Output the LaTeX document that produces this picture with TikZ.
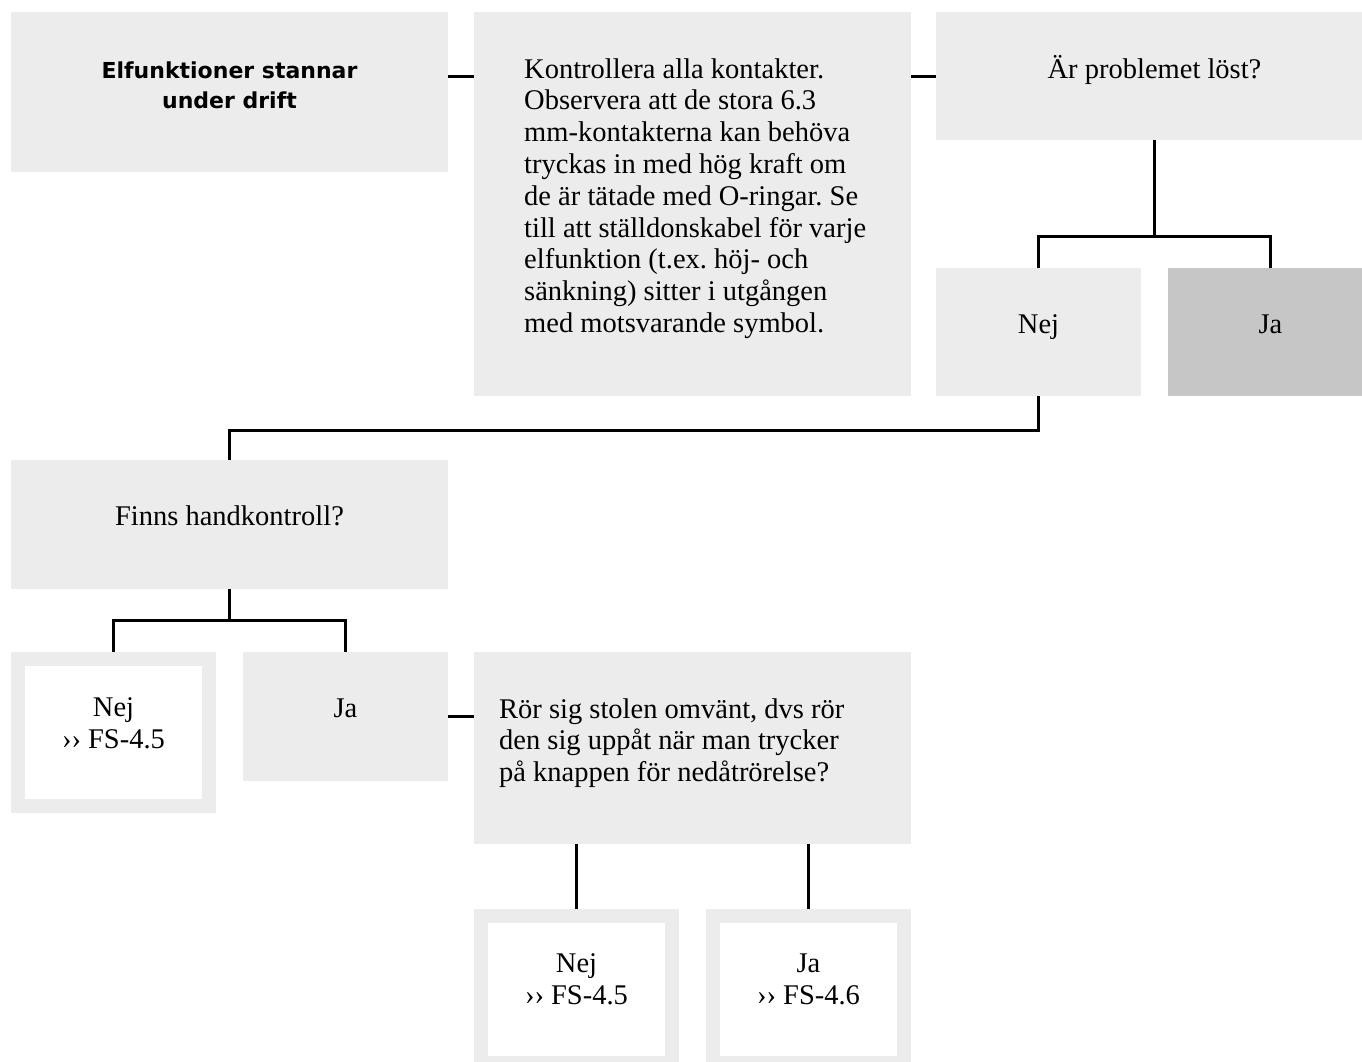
\documentclass[tikz,border=0pt]{standalone}
\usepackage{fontspec}
\setmainfont{Liberation Serif}
\newfontfamily\headfont{DejaVu Sans}
\usetikzlibrary{positioning}
\frenchspacing

\definecolor{boxgray}{HTML}{ECECEC}
\definecolor{yesgray}{HTML}{C6C6C6}

\tikzset{
  box/.style={fill=boxgray, anchor=north west, minimum width=437pt, inner sep=0pt, outer sep=0pt},
  smallbox/.style={box, minimum width=205pt, minimum height=128pt},
  endbox/.style={draw=boxgray, line width=14pt, anchor=north west, minimum width=191pt,
    minimum height=147pt, inner sep=0pt, outer sep=7pt},
  txt/.style={anchor=base, inner sep=0pt, align=center, font=\fontsize{28.5}{31.8}\selectfont},
  conn/.style={line width=3pt},
}

\begin{document}
\begin{tikzpicture}[x=1pt, y=-1pt]
  \useasboundingbox (0,0) rectangle (1362,1061);

  % boxes
  \node[box, minimum height=160pt] (start) at (11,12) {};
  \node[box, minimum height=384pt] (check) at (474,12) {};
  \node[box, minimum height=128pt] (solved) at (936,12) {};
  \node[smallbox] (solvedno) at (936,268) {};
  \node[smallbox, fill=yesgray] (solvedyes) at (1168,268) {};
  \node[box, minimum height=129pt] (hand) at (11,460) {};
  \node[endbox] (handno) at (11,652) {};
  \node[smallbox, minimum height=129pt] (handyes) at (243,652) {};
  \node[box, minimum height=192pt] (rev) at (474,652) {};
  \node[endbox] (revno) at (474,909) {};
  \node[endbox] (revyes) at (706,909) {};

  % texts (base = last line, so shift by the number of lines)
  \node[txt, font=\headfont\bfseries\fontsize{22}{30}\selectfont] (starttext)
    at ([yshift=-96pt]start.north) {Elfunktioner stannar\\under drift};
  \node[txt, anchor=base west, align=left] (checktext)
    at ([xshift=50pt,yshift={-66pt-8*31.8pt}]check.north west)
    {Kontrollera alla kontakter.\\
     Observera att de stora 6.3\\
     mm-kontakterna kan behöva\\
     tryckas in med hög kraft om\\
     de är tätade med O-ringar. Se\\
     till att ställdonskabel för varje\\
     elfunktion (t.ex. höj- och\\
     sänkning) sitter i utgången\\
     med motsvarande symbol.};
  \node[txt] (solvedtext) at ([yshift=-66pt]solved.north) {Är problemet löst?};
  \node[txt] (solvednotext) at ([yshift=-65pt]solvedno.north) {Nej};
  \node[txt] (solvedyestext) at ([yshift=-65pt]solvedyes.north) {Ja};
  \node[txt] (handtext) at ([yshift=-65pt]hand.north) {Finns handkontroll?};
  \node[txt] (handnotext) at ([yshift={-65pt-31pt}]handno.north) {Nej\\›› FS-4.5};
  \node[txt] (handyestext) at ([yshift=-65pt]handyes.north) {Ja};
  \node[txt, anchor=base west, align=left] (revtext)
    at ([xshift=25pt,yshift={-66pt-2*31.8pt}]rev.north west)
    {Rör sig stolen omvänt, dvs rör\\
     den sig uppåt när man trycker\\
     på knappen för nedåtrörelse?};
  \node[txt] (revnotext) at ([yshift={-64pt-31pt}]revno.north) {Nej\\›› FS-4.5};
  \node[txt] (revyestext) at ([yshift={-64pt-31pt}]revyes.north) {Ja\\›› FS-4.6};

  % connectors
  \draw[conn] (start.east |- solved.west) -- (check.west |- solved.west);
  \draw[conn] (check.east |- solved.west) -- (solved.west);
  \draw[conn] (solved.south) -- ++(0,96) coordinate (solvedfork);
  \draw[conn] (solvedno.north) |- (solvedfork) -| (solvedyes.north);
  \draw[conn] (solvedno.south) -- ++(0,34) -| (hand.north);
  \draw[conn] (hand.south) -- ++(0,31) coordinate (handfork);
  \draw[conn] (handno.north) |- (handfork) -| (handyes.north);
  \draw[conn] (handyes.east) -- (handyes.east -| rev.west);
  \draw[conn] (revno.north) -- (revno.north |- rev.south);
  \draw[conn] (revyes.north) -- (revyes.north |- rev.south);
\end{tikzpicture}
\end{document}
